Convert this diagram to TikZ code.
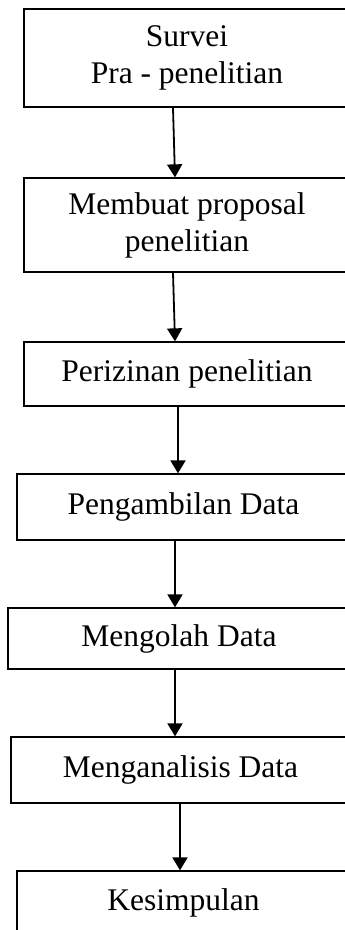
\documentclass[tikz,border=0pt]{standalone}
\usepackage{fontspec}
\setmainfont{Liberation Serif}
\usetikzlibrary{shapes, arrows.meta}

\tikzset{
	langkah/.style={draw, line width=1.3pt, align=center, inner sep=0pt,
		font=\fontsize{31.5}{37}\selectfont},
	panah/.style={-{Triangle[width=15pt,length=13pt]}, line width=1.8pt}
}

\begin{document}
\begin{tikzpicture}[x=1pt, y=-1pt]
	\useasboundingbox (0,0) rectangle (345,930);
	\node[langkah, line width=2pt, minimum width=326pt, minimum height=98pt] (survei) at (187,58) {Survei\\Pra - penelitian};
	\node[langkah, minimum width=326pt, minimum height=94pt] (proposal) at (187,225) {Membuat proposal\\penelitian};
	\node[langkah, minimum width=326pt, minimum height=64pt] (izin) at (187,374) {Perizinan penelitian};
	\node[langkah, minimum width=333pt, minimum height=66pt] (ambil) at (183.5,507) {Pengambilan Data};
	\node[langkah, minimum width=342pt, minimum height=61pt] (olah) at (179,638.5) {Mengolah Data};
	\node[langkah, minimum width=339pt, minimum height=66pt] (analisis) at (180.5,770) {Menganalisis Data};
	\node[langkah, minimum width=333pt, minimum height=64pt] (simpul) at (183.5,903) {Kesimpulan};
	\draw[panah] ([xshift=-14pt]survei.south) -- ([xshift=-12pt]proposal.north);
	\draw[panah] ([xshift=-14pt]proposal.south) -- ([xshift=-12pt]izin.north);
	\draw[panah] ([xshift=-9pt]izin.south) -- ([xshift=-5.5pt]ambil.north);
	\draw[panah] ([xshift=-8.5pt]ambil.south) -- ([xshift=-4pt]olah.north);
	\draw[panah] ([xshift=-4pt]olah.south) -- ([xshift=-5.5pt]analisis.north);
	\draw[panah] ([xshift=-0.5pt]analisis.south) -- ([xshift=-3.5pt]simpul.north);
\end{tikzpicture}
\end{document}
